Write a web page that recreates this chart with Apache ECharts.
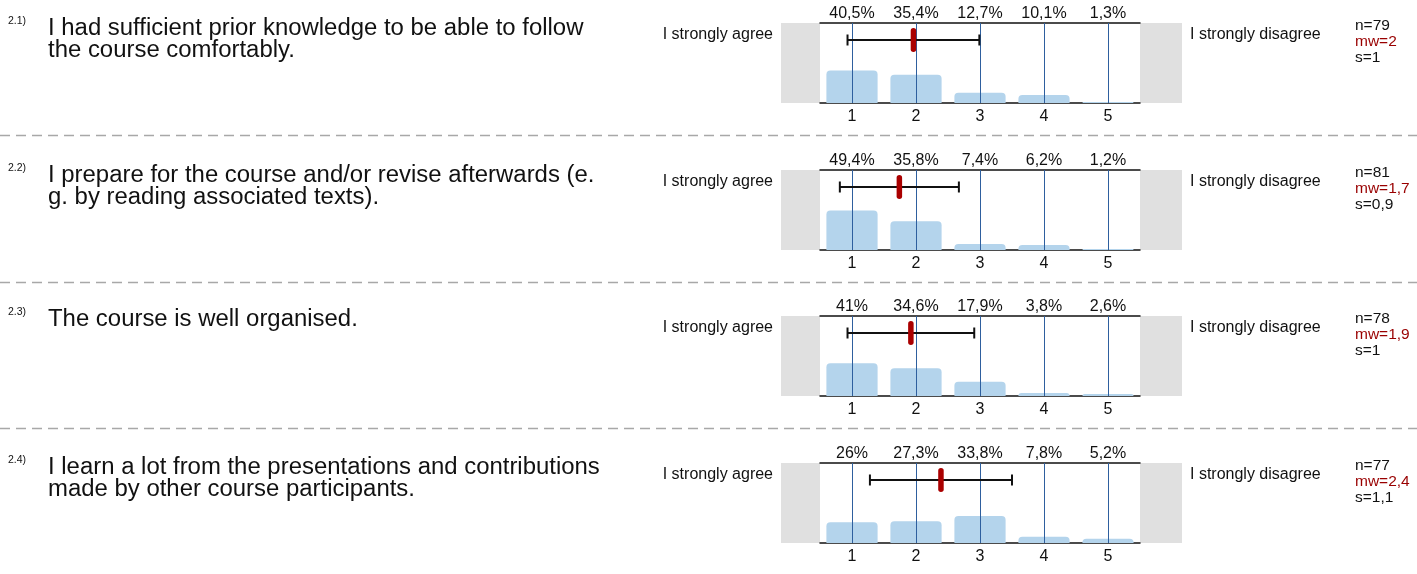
<!DOCTYPE html>
<html>
<head>
<meta charset="utf-8">
<script src="https://cdn.jsdelivr.net/npm/echarts@6/dist/echarts.min.js"></script>
<style>
html,body{margin:0;padding:0;background:#fff;}
#chart{width:1417px;height:574px;}
</style>
</head>
<body>
<div id="chart"></div>
<script>
// ---- data ----
const categories = ['1', '2', '3', '4', '5'];
const questionIds = ['2.1)', '2.2)', '2.3)', '2.4)'];
const questionLines = [
  ['I had sufficient prior knowledge to be able to follow', 'the course comfortably.'],
  ['I prepare for the course and/or revise afterwards (e.', 'g. by reading associated texts).'],
  ['The course is well organised.'],
  ['I learn a lot from the presentations and contributions', 'made by other course participants.']
];
const pct_2_1 = [40.5, 35.4, 12.7, 10.1, 1.3];
const pct_2_2 = [49.4, 35.8, 7.4, 6.2, 1.2];
const pct_2_3 = [41, 34.6, 17.9, 3.8, 2.6];
const pct_2_4 = [26, 27.3, 33.8, 7.8, 5.2];
const nValues = [79, 81, 78, 77];
const mwLabels = ['2', '1,7', '1,9', '2,4'];
const sLabels = ['1', '0,9', '1', '1,1'];
const meanValues = [1.96, 1.74, 1.92, 2.39];
const sdValues = [1.03, 0.93, 0.99, 1.11];
const leftPole = 'I strongly agree';
const rightPole = 'I strongly disagree';

const percentSets = [pct_2_1, pct_2_2, pct_2_3, pct_2_4];

// ---- layout ----
const gridLeft = 820, gridWidth = 320, gridHeight = 80;
const gridTops = [23, 170, 316, 463];
const textYs = [29, 176, 320, 468];
const separatorYs = [135, 282, 428];
const FONT = '"Liberation Sans", Arial, Helvetica, sans-serif';
const TEXT_COLOR = '#111';

const fmtPct = v => String(v).replace('.', ',') + '%';

const grids = [], xAxes = [], yAxes = [], series = [], graphics = [];

percentSets.forEach((vals, i) => {
  const top = gridTops[i];
  grids.push({left: gridLeft, top: top, width: gridWidth, height: gridHeight, containLabel: false});
  xAxes.push({
    type: 'category', gridIndex: i, data: categories, position: 'bottom',
    axisLine: {show: true, lineStyle: {color: '#111', width: 1.5}},
    axisTick: {show: false},
    axisLabel: {color: TEXT_COLOR, fontSize: 16, fontFamily: FONT, margin: 6},
    splitLine: {show: false}
  });
  xAxes.push({
    type: 'category', gridIndex: i, data: vals.map(fmtPct), position: 'top',
    axisLine: {show: true, lineStyle: {color: '#111', width: 1.5}},
    axisTick: {show: false},
    axisLabel: {color: TEXT_COLOR, fontSize: 16, fontFamily: FONT, margin: 1},
    splitLine: {show: false}
  });
  xAxes.push({type: 'value', gridIndex: i, min: 0.5, max: 5.5, show: false});
  yAxes.push({type: 'value', gridIndex: i, min: 0, max: 100, show: false});

  series.push({
    type: 'bar', xAxisIndex: 3 * i, yAxisIndex: i, data: vals,
    barCategoryGap: '20%',
    itemStyle: {color: '#b4d4ec', borderRadius: [4, 4, 0, 0]},
    silent: true, z: 2
  });
  series.push({
    type: 'custom', xAxisIndex: 3 * i, yAxisIndex: i,
    data: categories.map((c, j) => [j]),
    silent: true, z: 3, clip: false,
    renderItem: (params, api) => {
      const pb = api.coord([api.value(0), 0]);
      const pt = api.coord([api.value(0), 100]);
      const x = Math.round(pb[0]) + 0.5;
      return {type: 'line', shape: {x1: x, y1: pt[1], x2: x, y2: pb[1]},
              style: {stroke: '#2e5f9e', lineWidth: 1}};
    }
  });
  series.push({
    type: 'custom', xAxisIndex: 3 * i + 2, yAxisIndex: i,
    data: [[meanValues[i], sdValues[i]]],
    silent: true, z: 5, clip: false,
    renderItem: (params, api) => {
      const m = api.value(0), s = api.value(1);
      const topPx = api.coord([m, 100])[1];
      const cy = Math.round(topPx + 17);
      const x1 = api.coord([m - s, 100])[0];
      const x2 = api.coord([m + s, 100])[0];
      const xm = api.coord([m, 100])[0];
      return {type: 'group', children: [
        {type: 'line', shape: {x1: x1, y1: cy, x2: x2, y2: cy}, style: {stroke: '#111', lineWidth: 2}},
        {type: 'line', shape: {x1: x1, y1: cy - 5.5, x2: x1, y2: cy + 5.5}, style: {stroke: '#111', lineWidth: 2}},
        {type: 'line', shape: {x1: x2, y1: cy - 5.5, x2: x2, y2: cy + 5.5}, style: {stroke: '#111', lineWidth: 2}},
        {type: 'rect', shape: {x: xm - 2.75, y: cy - 12, width: 5.5, height: 24, r: 2.75}, style: {fill: '#aa0000'}}
      ]};
    }
  });

  graphics.push({type: 'rect', z: 0, shape: {x: gridLeft - 39, y: top, width: 39, height: gridHeight}, style: {fill: '#e0e0e0'}});
  graphics.push({type: 'rect', z: 0, shape: {x: gridLeft + gridWidth, y: top, width: 42, height: gridHeight}, style: {fill: '#e0e0e0'}});

  graphics.push({type: 'text', x: 773, y: top + 12, style: {text: leftPole, fontSize: 16, fontFamily: FONT, fill: TEXT_COLOR, align: 'right', verticalAlign: 'middle'}});
  graphics.push({type: 'text', x: 1190, y: top + 12, style: {text: rightPole, fontSize: 16, fontFamily: FONT, fill: TEXT_COLOR, align: 'left', verticalAlign: 'middle'}});

  graphics.push({type: 'text', x: 1355, y: top + 3, style: {text: 'n=' + nValues[i], fontSize: 15.5, fontFamily: FONT, fill: TEXT_COLOR, align: 'left', verticalAlign: 'middle'}});
  graphics.push({type: 'text', x: 1355, y: top + 19, style: {text: 'mw=' + mwLabels[i], fontSize: 15.5, fontFamily: FONT, fill: '#990000', align: 'left', verticalAlign: 'middle'}});
  graphics.push({type: 'text', x: 1355, y: top + 35, style: {text: 's=' + sLabels[i], fontSize: 15.5, fontFamily: FONT, fill: TEXT_COLOR, align: 'left', verticalAlign: 'middle'}});

  const ty = textYs[i];
  graphics.push({type: 'text', x: 8, y: ty - 8, style: {text: questionIds[i], fontSize: 10.5, fontFamily: FONT, fill: TEXT_COLOR, align: 'left', verticalAlign: 'middle'}});
  questionLines[i].forEach((line, k) => {
    graphics.push({type: 'text', x: 48, y: ty + 22 * k, scaleX: 1.04,
      style: {text: line, fontSize: 23, fontFamily: FONT, fill: TEXT_COLOR, align: 'left', verticalAlign: 'middle'}});
  });
});

separatorYs.forEach(y => {
  graphics.push({type: 'line', shape: {x1: 0, y1: y + 0.5, x2: 1417, y2: y + 0.5},
    style: {stroke: '#a8a8a8', lineWidth: 1.5, lineDash: [10, 6]}});
});

const chart = echarts.init(document.getElementById('chart'), null, {renderer: 'canvas'});
chart.setOption({
  animation: false,
  backgroundColor: '#fff',
  grid: grids,
  xAxis: xAxes,
  yAxis: yAxes,
  series: series,
  graphic: graphics
});
</script>
</body>
</html>
